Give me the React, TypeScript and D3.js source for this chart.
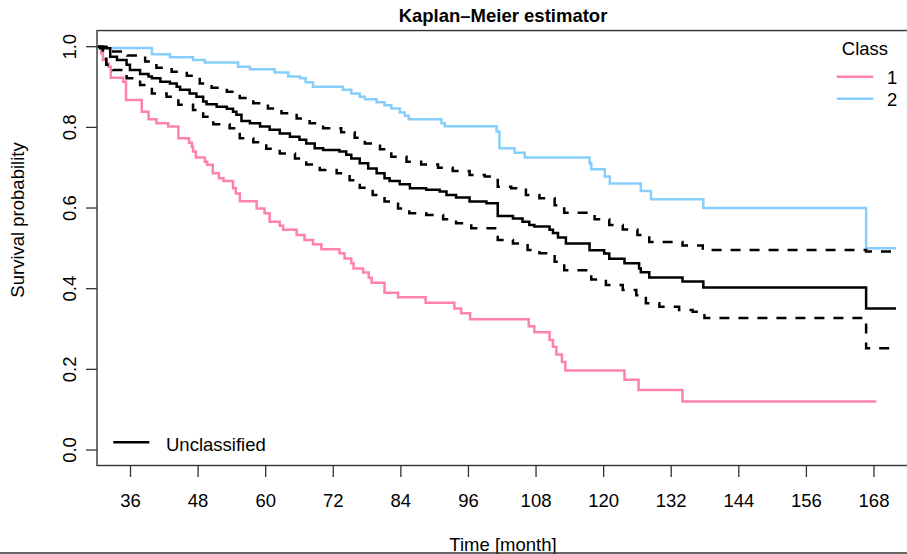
import React from 'react';
import * as d3 from 'd3';

// Kaplan-Meier step curves (time in months, survival probability)
const pinkTime = [30.2, 30.8, 31.1, 31.8, 32.1, 32.5, 34.7, 35.2, 38.0, 39.2, 40.6, 42.7, 44.5, 46.4, 46.9, 47.1, 47.6, 49.2, 49.6, 50.6, 51.7, 52.5, 54.2, 54.7, 55.4, 58.4, 59.8, 60.7, 62.5, 63.1, 65.5, 66.9, 68.4, 69.9, 73.1, 74.0, 75.2, 75.6, 77.3, 78.3, 78.8, 81.1, 83.5, 88.4, 93.5, 94.7, 96.3, 106.7, 107.7, 110.4, 111.0, 111.6, 112.6, 113.2, 123.7, 126.2, 134.0, 168.4];
const pinkSurv = [1.0, 0.984, 0.967, 0.959, 0.95, 0.923, 0.913, 0.868, 0.839, 0.82, 0.81, 0.802, 0.773, 0.762, 0.752, 0.74, 0.725, 0.715, 0.707, 0.686, 0.674, 0.667, 0.649, 0.636, 0.617, 0.599, 0.587, 0.566, 0.556, 0.546, 0.533, 0.521, 0.51, 0.498, 0.488, 0.475, 0.463, 0.45, 0.44, 0.427, 0.415, 0.39, 0.379, 0.365, 0.351, 0.339, 0.324, 0.307, 0.292, 0.273, 0.256, 0.237, 0.218, 0.197, 0.174, 0.149, 0.12, 0.12];

const blueTime = [30.2, 39.8, 43.0, 47.1, 49.2, 55.1, 57.2, 61.6, 64.0, 66.1, 67.1, 68.4, 73.7, 75.2, 76.7, 77.6, 79.7, 81.1, 82.3, 83.8, 84.7, 85.4, 91.2, 91.8, 101.0, 101.5, 104.2, 106.0, 117.5, 117.8, 120.2, 121.1, 126.6, 128.4, 137.7, 166.6, 171.9];
const blueSurv = [0.997, 0.981, 0.974, 0.967, 0.961, 0.95, 0.944, 0.936, 0.926, 0.922, 0.912, 0.901, 0.893, 0.884, 0.876, 0.87, 0.862, 0.855, 0.847, 0.837, 0.829, 0.82, 0.81, 0.803, 0.79, 0.748, 0.737, 0.725, 0.711, 0.696, 0.678, 0.661, 0.642, 0.622, 0.6, 0.5, 0.5];

const allTime = [30.2, 30.6, 32.4, 33.6, 35.3, 35.9, 37.7, 39.2, 39.8, 41.3, 43.0, 44.2, 44.8, 46.5, 47.7, 48.9, 49.5, 51.3, 53.1, 54.2, 54.8, 55.7, 57.2, 59.0, 60.7, 62.5, 64.3, 66.0, 67.2, 68.7, 70.2, 73.1, 74.3, 75.2, 76.7, 78.2, 79.7, 81.1, 82.0, 83.8, 85.6, 88.5, 90.9, 92.1, 93.8, 96.2, 99.2, 101.2, 103.9, 105.6, 106.8, 107.7, 110.4, 111.0, 111.9, 113.3, 117.5, 120.1, 121.0, 123.7, 126.3, 126.6, 128.1, 134.0, 137.7, 166.6, 171.9];
const allSurv = [1.0, 0.996, 0.975, 0.967, 0.955, 0.942, 0.932, 0.926, 0.922, 0.913, 0.909, 0.901, 0.893, 0.884, 0.876, 0.864, 0.857, 0.851, 0.846, 0.839, 0.831, 0.816, 0.81, 0.802, 0.794, 0.785, 0.777, 0.769, 0.76, 0.748, 0.744, 0.74, 0.732, 0.723, 0.711, 0.698, 0.686, 0.674, 0.667, 0.659, 0.649, 0.645, 0.641, 0.632, 0.626, 0.616, 0.612, 0.58, 0.574, 0.566, 0.558, 0.554, 0.546, 0.538, 0.527, 0.512, 0.495, 0.487, 0.474, 0.463, 0.45, 0.441, 0.428, 0.418, 0.403, 0.351, 0.351];

const upperTime = [30.2, 32.7, 35.4, 38.6, 40.6, 43.3, 46.0, 48.3, 50.4, 53.1, 55.4, 57.8, 60.4, 62.8, 65.5, 67.8, 70.2, 73.4, 75.8, 77.6, 80.3, 82.3, 85.0, 87.6, 90.6, 93.2, 96.2, 98.9, 101.2, 103.6, 106.2, 108.6, 111.3, 113.0, 118.4, 121.0, 123.4, 126.0, 128.1, 134.0, 137.6, 166.6, 171.9];
const upperSurv = [1.0, 0.988, 0.978, 0.963, 0.948, 0.938, 0.928, 0.909, 0.898, 0.888, 0.873, 0.86, 0.847, 0.835, 0.822, 0.81, 0.798, 0.788, 0.774, 0.76, 0.746, 0.727, 0.715, 0.708, 0.7, 0.692, 0.682, 0.678, 0.653, 0.649, 0.632, 0.624, 0.607, 0.588, 0.572, 0.558, 0.547, 0.533, 0.516, 0.507, 0.496, 0.492, 0.492];

const lowerTime = [30.2, 31.1, 31.7, 32.9, 35.3, 37.7, 39.8, 42.4, 44.5, 47.1, 48.9, 50.7, 53.6, 55.4, 57.8, 60.1, 62.5, 65.2, 67.2, 69.6, 72.6, 74.9, 76.7, 79.0, 81.1, 83.5, 85.5, 88.5, 91.5, 93.8, 96.5, 101.2, 103.9, 106.5, 108.6, 111.3, 113.0, 117.8, 120.4, 123.4, 125.8, 127.5, 129.9, 133.4, 135.8, 137.9, 166.6, 171.9];
const lowerSurv = [1.0, 0.97, 0.955, 0.942, 0.922, 0.905, 0.884, 0.876, 0.856, 0.843, 0.826, 0.808, 0.798, 0.773, 0.763, 0.747, 0.735, 0.723, 0.708, 0.694, 0.686, 0.669, 0.65, 0.632, 0.616, 0.599, 0.587, 0.583, 0.572, 0.562, 0.55, 0.521, 0.512, 0.496, 0.488, 0.467, 0.446, 0.423, 0.409, 0.397, 0.384, 0.364, 0.355, 0.347, 0.343, 0.327, 0.252, 0.252];

const xTicks = [36, 48, 60, 72, 84, 96, 108, 120, 132, 144, 156, 168];
const yTicks = [0, 0.2, 0.4, 0.6, 0.8, 1.0];
const classLabels = ['1', '2'];
const classColors = ['#FF82AB', '#87CEFA'];

const font = '"Liberation Sans", Arial, Helvetica, sans-serif';

export default function App() {
  const width = 907;
  const height = 554;

  const x = d3.scaleLinear().domain([36, 168]).range([130.5, 874]);
  const y = d3.scaleLinear().domain([0, 1]).range([450, 46.7]);

  // plot box (R style, 4% padding on y)
  const box = { left: 97, top: y(1.04), right: 912, bottom: 465.5 };

  const step = (times: number[], surv: number[]) =>
    d3
      .line<number>()
      .x((i) => x(times[i]))
      .y((i) => y(surv[i]))
      .curve(d3.curveStepAfter)(times.map((_, i) => i)) || '';

  const fs = 18.5;

  return (
    <svg
      width={width}
      height={height}
      style={{ position: 'absolute', left: 0, top: 0, background: '#fff' }}
      fontFamily={font}
    >
      <rect x={0} y={0} width={width} height={height} fill="#fff" />

      {/* title */}
      <text x={503} y={21.7} textAnchor="middle" fontSize={fs} fontWeight="bold" fill="#000">
        Kaplan–Meier estimator
      </text>

      {/* curves */}
      <path d={step(pinkTime, pinkSurv)} fill="none" stroke={classColors[0]} strokeWidth={2.5} />
      <path d={step(blueTime, blueSurv)} fill="none" stroke={classColors[1]} strokeWidth={2.5} />
      <path d={step(upperTime, upperSurv)} fill="none" stroke="#000" strokeWidth={2.5} strokeDasharray="10,9" />
      <path d={step(lowerTime, lowerSurv)} fill="none" stroke="#000" strokeWidth={2.5} strokeDasharray="10,9" />
      <path d={step(allTime, allSurv)} fill="none" stroke="#000" strokeWidth={2.5} />

      {/* plot box */}
      <rect
        x={box.left}
        y={box.top}
        width={box.right - box.left}
        height={box.bottom - box.top}
        fill="none"
        stroke="#333"
        strokeWidth={1.4}
      />

      {/* x axis */}
      <g>
        {xTicks.map((t) => (
          <g key={t}>
            <line x1={x(t)} x2={x(t)} y1={box.bottom} y2={477} stroke="#333" strokeWidth={1.3} />
            <text x={x(t)} y={506.7} textAnchor="middle" fontSize={fs} fill="#000">
              {t}
            </text>
          </g>
        ))}
      </g>
      <text x={503} y={551} textAnchor="middle" fontSize={fs} fill="#000">
        Time [month]
      </text>
      <line x1={0} x2={width} y1={553} y2={553} stroke="#333" strokeWidth={1.5} />

      {/* y axis */}
      <g>
        {yTicks.map((v) => (
          <g key={v}>
            <line x1={86} x2={box.left} y1={y(v)} y2={y(v)} stroke="#333" strokeWidth={1.3} />
            <text
              transform={`translate(75.5,${y(v)}) rotate(-90)`}
              textAnchor="middle"
              fontSize={fs}
              fill="#000"
            >
              {v.toFixed(1)}
            </text>
          </g>
        ))}
      </g>
      <text transform="translate(24,220) rotate(-90)" textAnchor="middle" fontSize={fs} fill="#000">
        Survival probability
      </text>

      {/* class legend */}
      <text x={865} y={55} textAnchor="middle" fontSize={fs} fill="#000">
        Class
      </text>
      {classLabels.map((lab, i) => (
        <g key={lab}>
          <line x1={836.7} x2={873.3} y1={76.7 + i * 22} y2={76.7 + i * 22} stroke={classColors[i]} strokeWidth={2.5} />
          <text x={887} y={83.5 + i * 22} fontSize={fs} fill="#000">
            {lab}
          </text>
        </g>
      ))}

      {/* unclassified legend */}
      <line x1={113.3} x2={149.3} y1={442.3} y2={442.3} stroke="#000" strokeWidth={2.5} />
      <text x={166} y={450.5} fontSize={fs} fill="#000">
        Unclassified
      </text>
    </svg>
  );
}
